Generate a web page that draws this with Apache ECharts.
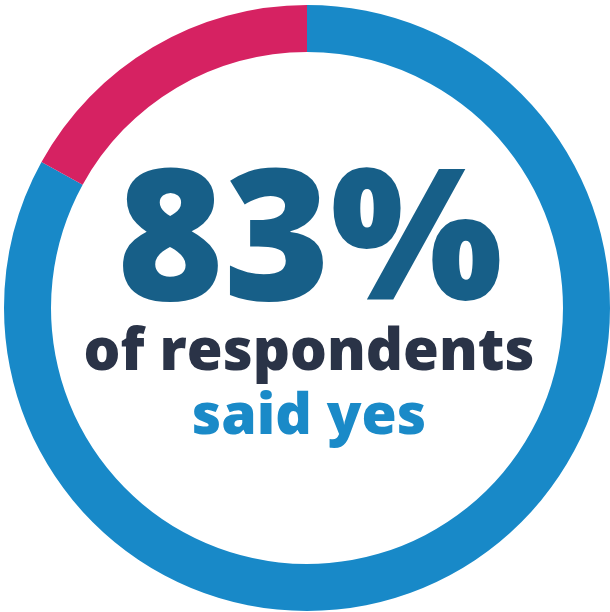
<!DOCTYPE html>
<html>
<head>
<meta charset="utf-8">
<style>
  html, body { margin: 0; padding: 0; background: #fff; }
  #chart { width: 610px; height: 612px; }
</style>
<script src="https://cdn.jsdelivr.net/npm/echarts@6/dist/echarts.min.js"></script>
</head>
<body>
<div id="chart"></div>
<script>
// answers
const categories = ['Yes', 'No']
const shares = [83, 17]
const colors = ['#1889c8', '#d62262']

const chart = echarts.init(document.getElementById('chart'))

chart.setOption({
  animation: false,
  series: [{
    type: 'pie',
    center: [307, 308],
    radius: [256, 303],
    startAngle: 90,
    clockwise: true,
    silent: true,
    label: { show: false },
    labelLine: { show: false },
    data: categories.map((name, i) => ({
      name: name,
      value: shares[i],
      itemStyle: { color: colors[i] }
    }))
  }],
  graphic: [
    {
      type: 'text',
      x: 310,
      top: 157,
      style: {
        text: shares[0] + '%',
        textAlign: 'center',
        font: '800 182px "Open Sans"',
        fill: '#175f88'
      }
    },
    {
      type: 'text',
      x: 309,
      top: 324,
      style: {
        text: 'of respondents',
        textAlign: 'center',
        font: '800 58px "Open Sans"',
        fill: '#2a3347'
      }
    },
    {
      type: 'text',
      x: 309,
      top: 389,
      style: {
        text: 'said yes',
        textAlign: 'center',
        font: '800 57px "Open Sans"',
        fill: '#1a8ac8'
      }
    }
  ]
})
</script>
</body>
</html>
